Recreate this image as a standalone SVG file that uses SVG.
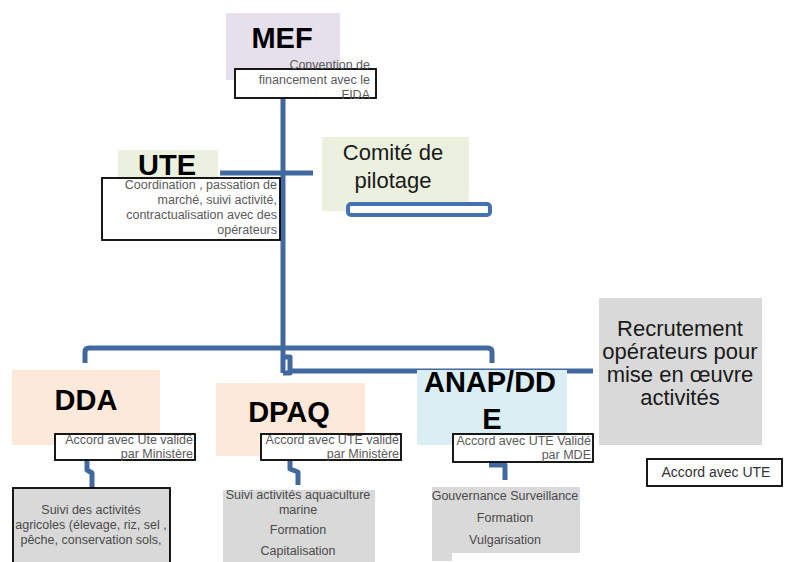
<svg xmlns="http://www.w3.org/2000/svg" width="785" height="562" viewBox="0 0 785 562">
<style>
.title{font-family:"Liberation Sans",Arial,sans-serif;font-weight:bold;font-size:29px;fill:#000;text-anchor:middle}
.mid{font-family:"Liberation Sans",Arial,sans-serif;font-size:22px;fill:#1a1a1a;text-anchor:middle}
.small{font-family:"Liberation Sans",Arial,sans-serif;font-size:12.5px;fill:#5a5a5a}
.end{text-anchor:end}
.ctr{text-anchor:middle}
.note{fill:#fff;stroke:#000;stroke-width:1.8}
.conn{fill:none;stroke:#41699f;stroke-width:5;stroke-linejoin:round;stroke-linecap:butt}
.act{font-family:"Liberation Sans",Arial,sans-serif;font-size:12.5px;fill:#4a4a4a;text-anchor:middle}
</style>
<rect width="785" height="562" fill="#fff"/>
<g id="connectors">
<path class="conn" d="M283,98 V373"/>
<path class="conn" d="M220,173 H313"/>
<path class="conn" d="M85,363 V352 Q85,348 89,348 H488 Q492,348 492,352 V363"/>
<path class="conn" d="M283,357 H290 V373 H283"/>
<path class="conn" d="M290,371 H593"/>
<path class="conn" d="M87,460 V470 L92,473 V488"/>
<path class="conn" d="M290,461 V469 L298,472 V485"/>
<path class="conn" d="M489,465 H505 V480"/>
</g>
<g id="MEF">
<rect x="226" y="13" width="114" height="67" fill="#e5e0ec"/>
<text class="title" x="282" y="48">MEF</text>
</g>
<g id="MEF-note">
<rect class="note" x="235" y="69" width="141" height="29"/>
<text class="small end" x="370" y="69">Convention de</text>
<text class="small end" x="370" y="84">financement avec le</text>
<text class="small end" x="370" y="99">FIDA</text>
</g>
<g id="UTE">
<rect x="118" y="150" width="100" height="28" fill="#ebf1de"/>
<text class="title" x="167" y="175">UTE</text>
</g>
<g id="UTE-note">
<rect class="note" x="102" y="178" width="178" height="62"/>
<text class="small end" x="277" y="189">Coordination , passation de</text>
<text class="small end" x="277" y="204">marché, suivi activité,</text>
<text class="small end" x="277" y="219">contractualisation avec des</text>
<text class="small end" x="277" y="234">opérateurs</text>
</g>
<g id="comite">
<rect x="322" y="137" width="147" height="74" fill="#ebf1de"/>
<text class="mid" x="393" y="160">Comité de</text>
<text class="mid" x="393" y="188">pilotage</text>
<rect x="348" y="204" width="142" height="11" rx="3" fill="#fff" stroke="#4472b0" stroke-width="4"/>
</g>
<g id="DDA">
<rect x="12" y="370" width="148" height="75" fill="#fde9d9"/>
<text class="title" x="86" y="410">DDA</text>
</g>
<g id="DDA-note">
<rect class="note" x="55" y="434" width="140" height="26"/>
<text class="small end" x="193" y="444">Accord avec Ute validé</text>
<text class="small end" x="193" y="458">par Ministère</text>
</g>
<g id="DPAQ">
<rect x="216" y="383" width="149" height="73" fill="#fde9d9"/>
<text class="title" x="289" y="422">DPAQ</text>
</g>
<g id="DPAQ-note">
<rect class="note" x="261" y="434" width="140" height="26"/>
<text class="small end" x="399" y="444">Accord avec UTE validé</text>
<text class="small end" x="399" y="458">par Ministère</text>
</g>
<g id="ANAP">
<rect x="417" y="370" width="150" height="75" fill="#daeef3"/>
<text class="title" x="490" y="392">ANAP/DD</text>
<text class="title" x="492" y="429">E</text>
</g>
<g id="ANAP-note">
<rect class="note" x="453" y="434" width="140" height="28"/>
<text class="small end" x="591" y="445">Accord avec UTE Validé</text>
<text class="small end" x="591" y="459">par MDE</text>
</g>
<g id="recrutement">
<rect x="599" y="298" width="163" height="147" fill="#d9d9d9"/>
<text class="mid" x="680" y="336">Recrutement</text>
<text class="mid" x="680" y="359">opérateurs pour</text>
<text class="mid" x="680" y="382">mise en œuvre</text>
<text class="mid" x="680" y="405">activités</text>
</g>
<g id="accord-ute">
<rect class="note" x="647" y="459" width="135" height="27"/>
<text class="small ctr" x="716" y="477" style="font-size:14px;fill:#333">Accord avec UTE</text>
</g>
<g id="DDA-activites">
<rect x="13" y="488" width="157" height="80" fill="#d9d9d9" stroke="#000" stroke-width="1.8"/>
<text class="act" x="91" y="514">Suivi des activités</text>
<text class="act" x="91" y="529">agricoles (élevage, riz, sel ,</text>
<text class="act" x="91" y="544">pêche, conservation sols,</text>
</g>
<g id="DPAQ-activites">
<rect x="223" y="490" width="152" height="72" fill="#d9d9d9"/>
<text class="act" x="298" y="499">Suivi activités aquaculture</text>
<text class="act" x="298" y="514">marine</text>
<text class="act" x="298" y="534">Formation</text>
<text class="act" x="298" y="555">Capitalisation</text>
</g>
<g id="ANAP-activites">
<path d="M432,487 H580 V553 H452 V561 H432 Z" fill="#d9d9d9"/>
<text class="act" x="505" y="500">Gouvernance Surveillance</text>
<text class="act" x="505" y="522">Formation</text>
<text class="act" x="505" y="544">Vulgarisation</text>
</g>
</svg>
